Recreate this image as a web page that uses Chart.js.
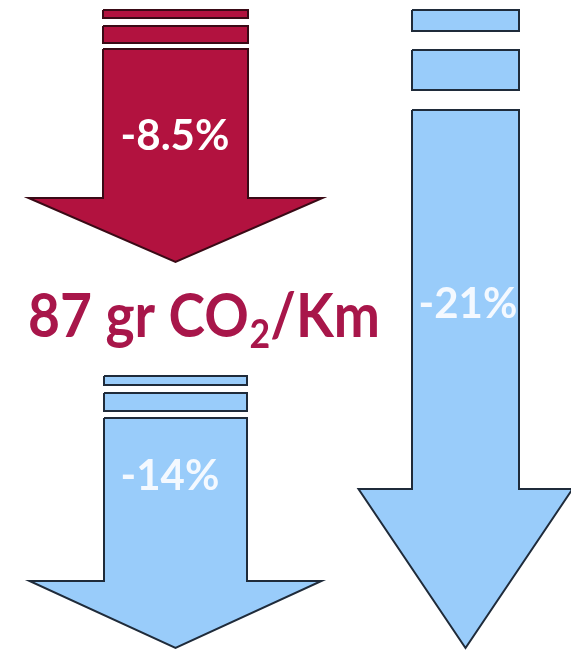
<!DOCTYPE html>
<html>
<head>
<meta charset="utf-8">
<title>CO2 reduction arrows</title>
<script src="https://cdn.jsdelivr.net/npm/chart.js@4.4.1/dist/chart.umd.min.js"></script>
<style>
  html, body { margin: 0; padding: 0; background: #ffffff; }
  #wrap { width: 571px; height: 650px; }
</style>
</head>
<body>
<div id="wrap"><canvas id="c" width="571" height="650"></canvas></div>
<script>
// Reductions shown on each arrow (percent)
const reductions = [-8.5, -14, -21];
const arrowKeys = ['target', 'cars', 'overall'];
// Headline figure between the two left arrows
const emissionValue = 87;
const emissionUnit = ['gr CO', '2', '/Km'];

// Arrow layout in canvas units (x: 0..571, y: 0..650 top-down)
const layout = {
  target:  { cx: 175.5, body: 72.5, stripes: [[10, 18], [26, 43]], top: 49,  headTop: 198, head: 147,  tip: 262, labelY: 136, labelX: 175 },
  cars:    { cx: 175.5, body: 71.5, stripes: [[376, 385], [393, 411]], top: 418, headTop: 581, head: 146, tip: 648, labelY: 476, labelX: 170 },
  overall: { cx: 465.5, body: 53.5, stripes: [[10, 31], [50, 90]], top: 110, headTop: 489, head: 107, tip: 648, labelY: 304, labelX: 468 }
};
// Headline box: left edge, right edge, baseline
const headline = { left: 28, right: 380, baseline: 337 };
const palette = {
  target:  { fill: '#b2123f', line: '#3a0a16', text: '#ffffff' },
  cars:    { fill: '#99ccfa', line: '#1f2b3a', text: '#f4f9ff' },
  overall: { fill: '#99ccfa', line: '#1f2b3a', text: '#f4f9ff' }
};
const headlineColor = '#a8164a';

function rect(x0, x1, y0, y1) {
  return [{x: x0, y: y0}, {x: x1, y: y0}, {x: x1, y: y1}, {x: x0, y: y1}, {x: x0, y: y0}];
}
function arrowShape(g) {
  const l = g.cx - g.body, r = g.cx + g.body;
  return [
    {x: l, y: g.top}, {x: r, y: g.top}, {x: r, y: g.headTop},
    {x: g.cx + g.head, y: g.headTop}, {x: g.cx, y: g.tip},
    {x: g.cx - g.head, y: g.headTop}, {x: l, y: g.headTop}, {x: l, y: g.top}
  ];
}

const datasets = [];
arrowKeys.forEach((key, i) => {
  const g = layout[key], p = palette[key];
  const shapes = g.stripes.map(s => rect(g.cx - g.body, g.cx + g.body, s[0], s[1]));
  shapes.push(arrowShape(g));
  shapes.forEach(pts => datasets.push({
    label: key,
    value: reductions[i],
    data: pts,
    showLine: true,
    fill: 'shape',
    backgroundColor: p.fill,
    borderColor: p.line,
    borderWidth: 2,
    borderJoinStyle: 'miter',
    pointRadius: 0,
    pointHoverRadius: 0,
    tension: 0,
    clip: false
  }));
});

function pct(v) { return (v > 0 ? '+' : '') + String(v) + '%'; }

const labelPlugin = {
  id: 'arrowLabels',
  afterDatasetsDraw(chart) {
    const ctx = chart.ctx, xs = chart.scales.x, ys = chart.scales.y;
    ctx.save();
    // percentage on each arrow
    ctx.textAlign = 'center';
    ctx.textBaseline = 'middle';
    ctx.font = 'bold 42px Lato, "Open Sans", sans-serif';
    arrowKeys.forEach((key, i) => {
      const g = layout[key];
      ctx.fillStyle = palette[key].text;
      ctx.fillText(pct(reductions[i]), xs.getPixelForValue(g.labelX), ys.getPixelForValue(g.labelY));
    });
    // headline: 87 gr CO2/Km with subscript, condensed to its box
    ctx.textAlign = 'left';
    ctx.textBaseline = 'alphabetic';
    ctx.fillStyle = headlineColor;
    const big = 'bold 62px Lato, "Open Sans", sans-serif';
    const small = 'bold 40px Lato, "Open Sans", sans-serif';
    const first = emissionValue + ' ' + emissionUnit[0];
    ctx.font = big;
    const w1 = ctx.measureText(first).width + 1, w3 = ctx.measureText(emissionUnit[2]).width;
    ctx.font = small;
    const w2 = ctx.measureText(emissionUnit[1]).width;
    const x0 = xs.getPixelForValue(headline.left), x1 = xs.getPixelForValue(headline.right);
    const base = ys.getPixelForValue(headline.baseline);
    const k = (x1 - x0) / (w1 + w2 + w3);
    ctx.translate(x0, base);
    ctx.scale(k, 1);
    ctx.font = big;
    ctx.fillText(first, 0, 0);
    ctx.font = small;
    ctx.fillText(emissionUnit[1], w1, 11);
    ctx.font = big;
    ctx.fillText(emissionUnit[2], w1 + w2, 0);
    ctx.restore();
  }
};

new Chart(document.getElementById('c'), {
  type: 'scatter',
  data: { datasets },
  options: {
    responsive: false,
    animation: false,
    devicePixelRatio: 1,
    layout: { padding: 0 },
    plugins: { legend: { display: false }, tooltip: { enabled: false } },
    scales: {
      x: { type: 'linear', min: 0, max: 571, display: false },
      y: { type: 'linear', min: 0, max: 650, reverse: true, display: false }
    }
  },
  plugins: [labelPlugin]
});
</script>
</body>
</html>
